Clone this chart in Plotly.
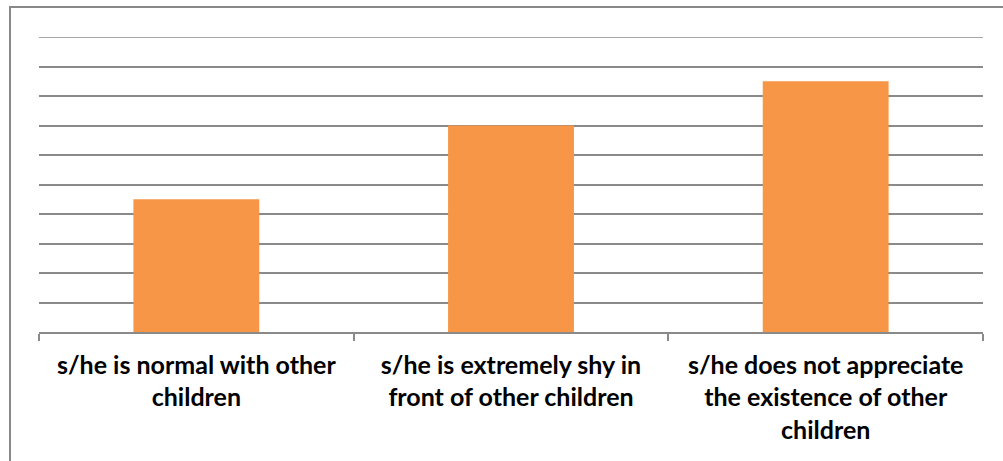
import plotly.graph_objects as go

categories = [
    "s/he is normal with other<br>children",
    "s/he is extremely shy in<br>front of other children",
    "s/he does not appreciate<br>the existence of other<br>children",
]
values = [4.5, 7, 8.5]
y_max = 10

BAR_COLOR = "#F79646"
GRID_COLOR = "#8A8A8A"

fig = go.Figure(
    go.Bar(
        x=categories,
        y=values,
        marker=dict(color=BAR_COLOR, line=dict(width=0)),
        width=0.4,
        hoverinfo="x+y",
    )
)

fig.update_layout(
    width=1003,
    height=461,
    margin=dict(l=39, r=20, t=37, b=129),
    paper_bgcolor="white",
    plot_bgcolor="white",
    showlegend=False,
    bargap=0.6,
    font=dict(family="Lato", size=25, color="#000000"),
)

fig.update_xaxes(
    showline=True,
    linecolor=GRID_COLOR,
    linewidth=1.5,
    ticks="outside",
    tickson="boundaries",
    ticklen=7,
    tickwidth=1.5,
    tickcolor=GRID_COLOR,
    tickfont=dict(family="Lato", size=25, color="#000000", weight="bold"),
    ticklabelstandoff=10,
    showgrid=False,
)

fig.update_yaxes(
    range=[0, y_max],
    dtick=1,
    showgrid=True,
    gridcolor=GRID_COLOR,
    gridwidth=1.5,
    showticklabels=False,
    zeroline=False,
    showline=False,
)

# gridline at the top of the value range
fig.add_shape(
    type="line",
    xref="paper",
    yref="y",
    x0=0,
    x1=1,
    y0=y_max,
    y1=y_max,
    line=dict(color=GRID_COLOR, width=1.5),
    layer="below",
)

# outer chart border
fig.add_shape(
    type="rect",
    xref="paper",
    yref="paper",
    x0=(10 - 39) / 944,
    x1=(1012 - 39) / 944,
    y0=-0.6,
    y1=1 + (37 - 7) / 295,
    line=dict(color="#888888", width=2),
    fillcolor="rgba(0,0,0,0)",
    layer="below",
)

fig.write_html("out.html")
